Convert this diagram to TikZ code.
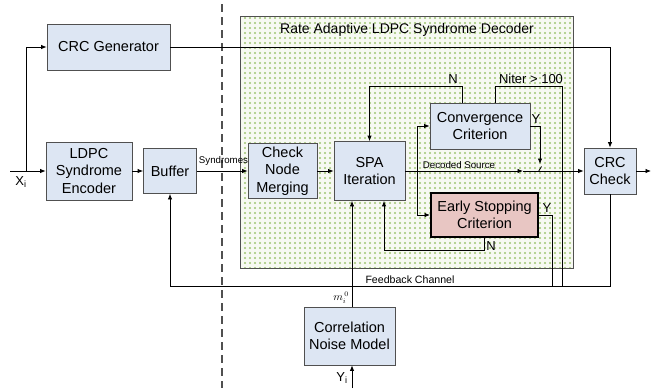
\documentclass[tikz,border=0pt]{standalone}
\usepackage{fontspec}
\setmainfont{Liberation Sans}
\usetikzlibrary{arrows.meta,patterns.meta}
\definecolor{boxblue}{HTML}{DDE6F3}
\definecolor{boxedge}{HTML}{505050}
\definecolor{escfill}{HTML}{E8C6C3}
\definecolor{dotgreen}{HTML}{9FC673}
\definecolor{decbg}{HTML}{F7F9F2}
\begin{document}
\begin{tikzpicture}[x=1pt,y=-1pt,
  blk/.style={draw=boxedge,fill=boxblue,line width=0.8pt,align=center,inner sep=0pt,
    font=\fontsize{14.5}{17.5}\selectfont},
  escblk/.style={draw=black,fill=escfill,line width=2pt,align=center,inner sep=0pt,
    font=\fontsize{14.5}{17.5}\selectfont},
  arr/.style={-{Latex[length=5.5pt,width=4.5pt]},line width=0.8pt},
  ln/.style={line width=0.8pt},
  small/.style={font=\fontsize{9.7}{11}\selectfont,inner sep=0pt},
  lbl/.style={font=\fontsize{13}{15}\selectfont,inner sep=0pt}]
\useasboundingbox (0,0) rectangle (668,388);
% decoder region
\fill[decbg] (240,16) rectangle (573,268);
\fill[pattern={Dots[radius=1.05pt,distance=5pt]},pattern color=dotgreen] (240,16) rectangle (573,268);
\draw[boxedge,line width=0.8pt] (240,16) rectangle (573,268);
\node[font=\fontsize{14}{16}\selectfont,inner sep=0pt] (title) at (407,30) {Rate Adaptive LDPC Syndrome Decoder};
% dashed separator
\draw[boxedge,line width=1.3pt,dash pattern=on 8pt off 5pt] (222,4) -- (222,388);
% blocks
\node[blk,minimum width=123pt,minimum height=46pt] (crcgen) at (108.5,47) {CRC Generator};
\node[blk,minimum width=86pt,minimum height=58pt] (enc) at (89,171) {LDPC\\Syndrome\\Encoder};
\node[blk,minimum width=53pt,minimum height=45pt] (buf) at (170,171) {Buffer};
\node[blk,minimum width=69pt,minimum height=55pt] (cnm) at (282.5,171) {Check\\Node\\Merging};
\node[blk,minimum width=71pt,minimum height=59pt] (spa) at (369.5,171) {SPA\\Iteration};
\node[blk,minimum width=100pt,minimum height=46pt] (conv) at (480,126) {Convergence\\Criterion};
\node[escblk,minimum width=107pt,minimum height=44pt] (esc) at (484.5,215) {Early Stopping\\Criterion};
\node[blk,minimum width=52pt,minimum height=46pt] (crcchk) at (610,171) {CRC\\Check};
\node[blk,minimum width=91pt,minimum height=58pt] (cnmodel) at (349.5,336) {Correlation\\Noise Model};
% coordinates
\coordinate (xin) at (10,171);
\coordinate (xbr) at (26,171);
\coordinate (fbr) at (610,286);
\coordinate (fbl) at (170,286);
\coordinate (nN) at (462,86);
\coordinate (nit) at (495,86);
\coordinate (nitr) at (562,86);
\coordinate (cy) at (540,126);
\coordinate (cyend) at (540,164);
\coordinate (eyr) at (552,215);
\coordinate (enl) at (384,250);
\coordinate (br) at (417,171);
\coordinate (dsa) at (523,171);
\coordinate (mx) at (352,307);
\coordinate (yin) at (352,388);
\coordinate (out) at (651,171);
% connectors
\draw[arr] (xin) -- (enc.west);
\draw[arr] (xbr) |- (crcgen.west);
\draw[arr] (crcgen.east) -| (crcchk.north);
\draw[arr] (enc.east) -- (buf.west);
\draw[arr] (buf.east) -- (cnm.west);
\draw[arr] (cnm.east) -- (spa.west);
\draw[arr] (spa.east) -- (dsa);
\draw[arr] (dsa) -- (crcchk.west);
\draw[arr] (crcchk.east) -- (out);
\draw[arr] (br) |- (conv.west);
\draw[arr] (br) |- (esc.west);
\draw[arr] (conv.north -| nN) -- (nN) -| (spa.north);
\draw[ln] (conv.north -| nit) -- (nit) -- (nitr) -- (nitr |- fbr);
\draw[arr] (conv.east) -- (cy) -- (cyend);
\draw[ln] (538.5,171.5) -- (541.5,166.5);
\draw[ln] (esc.east) -- (eyr) -- (eyr |- fbr);
\draw[arr] (esc.south) |- (enl) -- (enl |- spa.south);
\draw[arr] (crcchk.south) -- (fbr) -- (fbl) -- (buf.south);
\draw[arr] (mx) -- (mx |- spa.south);
\draw[arr] (yin) -- (yin |- cnmodel.south);
% labels
\node[lbl] (xl) at (21,182) {X\textsubscript{i}};
\node[lbl] (yl) at (342,378) {Y\textsubscript{i}};
\node[small] (synl) at (223.5,161) {Syndromes};
\node[small] (decl) at (459,165) {Decoded Source};
\node[font=\fontsize{10.6}{12}\selectfont,inner sep=0pt] (fbl2) at (410,280) {Feedback Channel};
\node[lbl] (nl1) at (453,79) {N};
\node[lbl] (nitl) at (531,79) {Niter > 100};
\node[lbl] (yl1) at (536,119) {Y};
\node[lbl] (yl2) at (547,208) {Y};
\node[lbl] (nl2) at (491,246) {N};
\node[font=\fontsize{10.5}{11}\selectfont,inner sep=0pt] (ml) at (341,297.5) {$m_i^{\,0}$};
\end{tikzpicture}
\end{document}
